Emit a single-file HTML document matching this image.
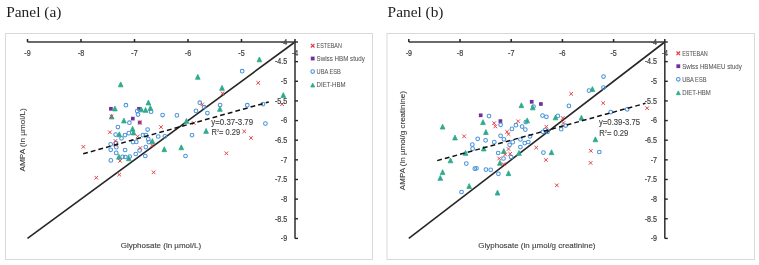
<!DOCTYPE html>
<html><head><meta charset="utf-8"><title>Panels</title>
<style>
html,body{margin:0;padding:0;background:#fff;}
body{width:759px;height:265px;overflow:hidden;}
svg{display:block;filter:blur(0.3px);}

</style></head>
<body>
<svg width="759" height="265" viewBox="0 0 759 265">
<rect width="759" height="265" fill="#fff"/>
<rect x="5.5" y="33.5" width="367.0" height="226.0" fill="#fff" stroke="#d9d9d9" stroke-width="1"/>
<text x="6.2" y="16.8" font-family="&quot;Liberation Serif&quot;, serif" font-size="14.6" fill="#1e1e1e" text-anchor="start" textLength="55.2" lengthAdjust="spacingAndGlyphs">Panel (a)</text>
<line x1="27.5" y1="238.4" x2="295.0" y2="42.0" stroke="#262626" stroke-width="1.6"/>
<rect x="109.05" y="106.95" width="3.70" height="3.70" fill="#7030a0"/>
<rect x="130.95" y="116.75" width="3.70" height="3.70" fill="#7030a0"/>
<rect x="137.15" y="106.95" width="3.70" height="3.70" fill="#7030a0"/>
<rect x="137.85" y="120.65" width="3.70" height="3.70" fill="#7030a0"/>
<circle cx="125.90" cy="105.20" r="1.85" stroke="#4b94db" stroke-width="1.05" fill="none"/>
<circle cx="137.20" cy="111.10" r="1.85" stroke="#4b94db" stroke-width="1.05" fill="none"/>
<circle cx="138.00" cy="114.50" r="1.85" stroke="#4b94db" stroke-width="1.05" fill="none"/>
<circle cx="151.10" cy="111.70" r="1.85" stroke="#4b94db" stroke-width="1.05" fill="none"/>
<circle cx="162.60" cy="115.00" r="1.85" stroke="#4b94db" stroke-width="1.05" fill="none"/>
<circle cx="176.90" cy="115.30" r="1.85" stroke="#4b94db" stroke-width="1.05" fill="none"/>
<circle cx="199.80" cy="102.70" r="1.85" stroke="#4b94db" stroke-width="1.05" fill="none"/>
<circle cx="196.00" cy="110.90" r="1.85" stroke="#4b94db" stroke-width="1.05" fill="none"/>
<circle cx="204.10" cy="107.20" r="1.85" stroke="#4b94db" stroke-width="1.05" fill="none"/>
<circle cx="207.40" cy="113.00" r="1.85" stroke="#4b94db" stroke-width="1.05" fill="none"/>
<circle cx="220.10" cy="105.00" r="1.85" stroke="#4b94db" stroke-width="1.05" fill="none"/>
<circle cx="247.30" cy="105.20" r="1.85" stroke="#4b94db" stroke-width="1.05" fill="none"/>
<circle cx="263.00" cy="104.10" r="1.85" stroke="#4b94db" stroke-width="1.05" fill="none"/>
<circle cx="242.20" cy="71.20" r="1.85" stroke="#4b94db" stroke-width="1.05" fill="none"/>
<circle cx="265.40" cy="123.60" r="1.85" stroke="#4b94db" stroke-width="1.05" fill="none"/>
<circle cx="129.40" cy="122.70" r="1.85" stroke="#4b94db" stroke-width="1.05" fill="none"/>
<circle cx="117.90" cy="127.00" r="1.85" stroke="#4b94db" stroke-width="1.05" fill="none"/>
<circle cx="115.60" cy="134.60" r="1.85" stroke="#4b94db" stroke-width="1.05" fill="none"/>
<circle cx="121.50" cy="138.30" r="1.85" stroke="#4b94db" stroke-width="1.05" fill="none"/>
<circle cx="125.00" cy="135.10" r="1.85" stroke="#4b94db" stroke-width="1.05" fill="none"/>
<circle cx="128.80" cy="133.20" r="1.85" stroke="#4b94db" stroke-width="1.05" fill="none"/>
<circle cx="142.90" cy="135.10" r="1.85" stroke="#4b94db" stroke-width="1.05" fill="none"/>
<circle cx="145.80" cy="135.10" r="1.85" stroke="#4b94db" stroke-width="1.05" fill="none"/>
<circle cx="147.60" cy="129.50" r="1.85" stroke="#4b94db" stroke-width="1.05" fill="none"/>
<circle cx="133.00" cy="142.10" r="1.85" stroke="#4b94db" stroke-width="1.05" fill="none"/>
<circle cx="136.30" cy="141.90" r="1.85" stroke="#4b94db" stroke-width="1.05" fill="none"/>
<circle cx="110.70" cy="144.30" r="1.85" stroke="#4b94db" stroke-width="1.05" fill="none"/>
<circle cx="116.00" cy="143.00" r="1.85" stroke="#4b94db" stroke-width="1.05" fill="none"/>
<circle cx="148.30" cy="139.20" r="1.85" stroke="#4b94db" stroke-width="1.05" fill="none"/>
<circle cx="148.80" cy="142.10" r="1.85" stroke="#4b94db" stroke-width="1.05" fill="none"/>
<circle cx="110.70" cy="149.80" r="1.85" stroke="#4b94db" stroke-width="1.05" fill="none"/>
<circle cx="116.30" cy="147.20" r="1.85" stroke="#4b94db" stroke-width="1.05" fill="none"/>
<circle cx="116.20" cy="152.90" r="1.85" stroke="#4b94db" stroke-width="1.05" fill="none"/>
<circle cx="110.80" cy="160.40" r="1.85" stroke="#4b94db" stroke-width="1.05" fill="none"/>
<circle cx="122.60" cy="156.80" r="1.85" stroke="#4b94db" stroke-width="1.05" fill="none"/>
<circle cx="125.30" cy="157.00" r="1.85" stroke="#4b94db" stroke-width="1.05" fill="none"/>
<circle cx="125.10" cy="150.00" r="1.85" stroke="#4b94db" stroke-width="1.05" fill="none"/>
<circle cx="129.70" cy="156.50" r="1.85" stroke="#4b94db" stroke-width="1.05" fill="none"/>
<circle cx="135.70" cy="154.00" r="1.85" stroke="#4b94db" stroke-width="1.05" fill="none"/>
<circle cx="139.60" cy="150.40" r="1.85" stroke="#4b94db" stroke-width="1.05" fill="none"/>
<circle cx="145.80" cy="147.10" r="1.85" stroke="#4b94db" stroke-width="1.05" fill="none"/>
<circle cx="145.30" cy="156.00" r="1.85" stroke="#4b94db" stroke-width="1.05" fill="none"/>
<circle cx="158.20" cy="136.50" r="1.85" stroke="#4b94db" stroke-width="1.05" fill="none"/>
<circle cx="164.80" cy="136.30" r="1.85" stroke="#4b94db" stroke-width="1.05" fill="none"/>
<circle cx="192.00" cy="135.10" r="1.85" stroke="#4b94db" stroke-width="1.05" fill="none"/>
<circle cx="185.50" cy="156.00" r="1.85" stroke="#4b94db" stroke-width="1.05" fill="none"/>
<path d="M120.70 81.95L123.05 86.85L118.35 86.85Z" fill="#34a0ad" stroke="#2cb176" stroke-width="0.8" stroke-linejoin="round"/>
<path d="M148.40 100.05L150.75 104.95L146.05 104.95Z" fill="#34a0ad" stroke="#2cb176" stroke-width="0.8" stroke-linejoin="round"/>
<path d="M197.80 74.35L200.15 79.25L195.45 79.25Z" fill="#34a0ad" stroke="#2cb176" stroke-width="0.8" stroke-linejoin="round"/>
<path d="M259.40 56.95L261.75 61.85L257.05 61.85Z" fill="#34a0ad" stroke="#2cb176" stroke-width="0.8" stroke-linejoin="round"/>
<path d="M222.00 85.35L224.35 90.25L219.65 90.25Z" fill="#34a0ad" stroke="#2cb176" stroke-width="0.8" stroke-linejoin="round"/>
<path d="M114.90 106.05L117.25 110.95L112.55 110.95Z" fill="#34a0ad" stroke="#2cb176" stroke-width="0.8" stroke-linejoin="round"/>
<path d="M141.30 106.95L143.65 111.85L138.95 111.85Z" fill="#34a0ad" stroke="#2cb176" stroke-width="0.8" stroke-linejoin="round"/>
<path d="M145.60 107.45L147.95 112.35L143.25 112.35Z" fill="#34a0ad" stroke="#2cb176" stroke-width="0.8" stroke-linejoin="round"/>
<path d="M150.40 105.45L152.75 110.35L148.05 110.35Z" fill="#34a0ad" stroke="#2cb176" stroke-width="0.8" stroke-linejoin="round"/>
<path d="M111.60 114.05L113.95 118.95L109.25 118.95Z" fill="#34a0ad" stroke="#2cb176" stroke-width="0.8" stroke-linejoin="round"/>
<path d="M123.90 118.05L126.25 122.95L121.55 122.95Z" fill="#34a0ad" stroke="#2cb176" stroke-width="0.8" stroke-linejoin="round"/>
<path d="M132.60 126.35L134.95 131.25L130.25 131.25Z" fill="#34a0ad" stroke="#2cb176" stroke-width="0.8" stroke-linejoin="round"/>
<path d="M133.50 130.05L135.85 134.95L131.15 134.95Z" fill="#34a0ad" stroke="#2cb176" stroke-width="0.8" stroke-linejoin="round"/>
<path d="M119.30 131.85L121.65 136.75L116.95 136.75Z" fill="#34a0ad" stroke="#2cb176" stroke-width="0.8" stroke-linejoin="round"/>
<path d="M186.50 118.45L188.85 123.35L184.15 123.35Z" fill="#34a0ad" stroke="#2cb176" stroke-width="0.8" stroke-linejoin="round"/>
<path d="M219.90 106.45L222.25 111.35L217.55 111.35Z" fill="#34a0ad" stroke="#2cb176" stroke-width="0.8" stroke-linejoin="round"/>
<path d="M283.30 92.55L285.65 97.45L280.95 97.45Z" fill="#34a0ad" stroke="#2cb176" stroke-width="0.8" stroke-linejoin="round"/>
<path d="M206.10 128.45L208.45 133.35L203.75 133.35Z" fill="#34a0ad" stroke="#2cb176" stroke-width="0.8" stroke-linejoin="round"/>
<path d="M152.40 138.65L154.75 143.55L150.05 143.55Z" fill="#34a0ad" stroke="#2cb176" stroke-width="0.8" stroke-linejoin="round"/>
<path d="M164.30 146.75L166.65 151.65L161.95 151.65Z" fill="#34a0ad" stroke="#2cb176" stroke-width="0.8" stroke-linejoin="round"/>
<path d="M181.30 144.85L183.65 149.75L178.95 149.75Z" fill="#34a0ad" stroke="#2cb176" stroke-width="0.8" stroke-linejoin="round"/>
<path d="M118.90 154.25L121.25 159.15L116.55 159.15Z" fill="#34a0ad" stroke="#2cb176" stroke-width="0.8" stroke-linejoin="round"/>
<path d="M128.80 155.85L131.15 160.75L126.45 160.75Z" fill="#34a0ad" stroke="#2cb176" stroke-width="0.8" stroke-linejoin="round"/>
<path d="M81.60 145.00L85.20 148.60M85.20 145.00L81.60 148.60" stroke="#e23a42" stroke-width="0.95" fill="none"/>
<path d="M94.50 175.90L98.10 179.50M98.10 175.90L94.50 179.50" stroke="#e23a42" stroke-width="0.95" fill="none"/>
<path d="M108.10 130.50L111.70 134.10M111.70 130.50L108.10 134.10" stroke="#e23a42" stroke-width="0.95" fill="none"/>
<path d="M109.80 114.70L113.40 118.30M113.40 114.70L109.80 118.30" stroke="#e23a42" stroke-width="0.95" fill="none"/>
<path d="M113.60 139.10L117.20 142.70M117.20 139.10L113.60 142.70" stroke="#e23a42" stroke-width="0.95" fill="none"/>
<path d="M113.80 143.20L117.40 146.80M117.40 143.20L113.80 146.80" stroke="#e23a42" stroke-width="0.95" fill="none"/>
<path d="M117.40 172.80L121.00 176.40M121.00 172.80L117.40 176.40" stroke="#e23a42" stroke-width="0.95" fill="none"/>
<path d="M118.30 159.10L121.90 162.70M121.90 159.10L118.30 162.70" stroke="#e23a42" stroke-width="0.95" fill="none"/>
<path d="M135.90 134.70L139.50 138.30M139.50 134.70L135.90 138.30" stroke="#e23a42" stroke-width="0.95" fill="none"/>
<path d="M137.90 120.80L141.50 124.40M141.50 120.80L137.90 124.40" stroke="#e23a42" stroke-width="0.95" fill="none"/>
<path d="M138.60 146.20L142.20 149.80M142.20 146.20L138.60 149.80" stroke="#e23a42" stroke-width="0.95" fill="none"/>
<path d="M150.30 143.60L153.90 147.20M153.90 143.60L150.30 147.20" stroke="#e23a42" stroke-width="0.95" fill="none"/>
<path d="M151.80 170.50L155.40 174.10M155.40 170.50L151.80 174.10" stroke="#e23a42" stroke-width="0.95" fill="none"/>
<path d="M159.20 125.30L162.80 128.90M162.80 125.30L159.20 128.90" stroke="#e23a42" stroke-width="0.95" fill="none"/>
<path d="M192.00 121.30L195.60 124.90M195.60 121.30L192.00 124.90" stroke="#e23a42" stroke-width="0.95" fill="none"/>
<path d="M200.40 102.70L204.00 106.30M204.00 102.70L200.40 106.30" stroke="#e23a42" stroke-width="0.95" fill="none"/>
<path d="M220.70 91.50L224.30 95.10M224.30 91.50L220.70 95.10" stroke="#e23a42" stroke-width="0.95" fill="none"/>
<path d="M224.60 151.50L228.20 155.10M228.20 151.50L224.60 155.10" stroke="#e23a42" stroke-width="0.95" fill="none"/>
<path d="M242.40 129.60L246.00 133.20M246.00 129.60L242.40 133.20" stroke="#e23a42" stroke-width="0.95" fill="none"/>
<path d="M249.20 136.10L252.80 139.70M252.80 136.10L249.20 139.70" stroke="#e23a42" stroke-width="0.95" fill="none"/>
<path d="M256.40 81.10L260.00 84.70M260.00 81.10L256.40 84.70" stroke="#e23a42" stroke-width="0.95" fill="none"/>
<path d="M280.30 102.40L283.90 106.00M283.90 102.40L280.30 106.00" stroke="#e23a42" stroke-width="0.95" fill="none"/>
<line x1="83.2" y1="153.8" x2="268.8" y2="102.0" stroke="#111" stroke-width="1.5" stroke-dasharray="4.8 3.1"/>
<line x1="27.5" y1="42.0" x2="295.0" y2="42.0" stroke="#3a3a3a" stroke-width="1.6"/>
<line x1="295.0" y1="42.0" x2="295.0" y2="238.4" stroke="#3a3a3a" stroke-width="1.6"/>
<line x1="27.50" y1="39.00" x2="27.50" y2="42.00" stroke="#262626" stroke-width="1.5"/>
<text x="27.50" y="55.9" font-family="&quot;Liberation Sans&quot;, sans-serif" font-size="8.3" fill="#404040" text-anchor="middle" textLength="6.35" lengthAdjust="spacingAndGlyphs" stroke="#404040" stroke-width="0.2">-9</text>
<line x1="81.00" y1="39.00" x2="81.00" y2="42.00" stroke="#262626" stroke-width="1.5"/>
<text x="81.00" y="55.9" font-family="&quot;Liberation Sans&quot;, sans-serif" font-size="8.3" fill="#404040" text-anchor="middle" textLength="6.35" lengthAdjust="spacingAndGlyphs" stroke="#404040" stroke-width="0.2">-8</text>
<line x1="134.50" y1="39.00" x2="134.50" y2="42.00" stroke="#262626" stroke-width="1.5"/>
<text x="134.50" y="55.9" font-family="&quot;Liberation Sans&quot;, sans-serif" font-size="8.3" fill="#404040" text-anchor="middle" textLength="6.35" lengthAdjust="spacingAndGlyphs" stroke="#404040" stroke-width="0.2">-7</text>
<line x1="188.00" y1="39.00" x2="188.00" y2="42.00" stroke="#262626" stroke-width="1.5"/>
<text x="188.00" y="55.9" font-family="&quot;Liberation Sans&quot;, sans-serif" font-size="8.3" fill="#404040" text-anchor="middle" textLength="6.35" lengthAdjust="spacingAndGlyphs" stroke="#404040" stroke-width="0.2">-6</text>
<line x1="241.50" y1="39.00" x2="241.50" y2="42.00" stroke="#262626" stroke-width="1.5"/>
<text x="241.50" y="55.9" font-family="&quot;Liberation Sans&quot;, sans-serif" font-size="8.3" fill="#404040" text-anchor="middle" textLength="6.35" lengthAdjust="spacingAndGlyphs" stroke="#404040" stroke-width="0.2">-5</text>
<line x1="295.00" y1="39.00" x2="295.00" y2="42.00" stroke="#262626" stroke-width="1.5"/>
<text x="295.00" y="55.9" font-family="&quot;Liberation Sans&quot;, sans-serif" font-size="8.3" fill="#404040" text-anchor="middle" textLength="6.35" lengthAdjust="spacingAndGlyphs" stroke="#404040" stroke-width="0.2">-4</text>
<line x1="295.00" y1="42.00" x2="298.00" y2="42.00" stroke="#262626" stroke-width="1.4"/>
<text x="287.20" y="44.75" font-family="&quot;Liberation Sans&quot;, sans-serif" font-size="8.3" fill="#404040" text-anchor="end" textLength="6.35" lengthAdjust="spacingAndGlyphs" stroke="#404040" stroke-width="0.2">-4</text>
<line x1="295.00" y1="61.64" x2="298.00" y2="61.64" stroke="#262626" stroke-width="1.4"/>
<text x="287.20" y="64.39" font-family="&quot;Liberation Sans&quot;, sans-serif" font-size="8.3" fill="#404040" text-anchor="end" textLength="12.30" lengthAdjust="spacingAndGlyphs" stroke="#404040" stroke-width="0.2">-4.5</text>
<line x1="295.00" y1="81.28" x2="298.00" y2="81.28" stroke="#262626" stroke-width="1.4"/>
<text x="287.20" y="84.03" font-family="&quot;Liberation Sans&quot;, sans-serif" font-size="8.3" fill="#404040" text-anchor="end" textLength="6.35" lengthAdjust="spacingAndGlyphs" stroke="#404040" stroke-width="0.2">-5</text>
<line x1="295.00" y1="100.92" x2="298.00" y2="100.92" stroke="#262626" stroke-width="1.4"/>
<text x="287.20" y="103.67" font-family="&quot;Liberation Sans&quot;, sans-serif" font-size="8.3" fill="#404040" text-anchor="end" textLength="12.30" lengthAdjust="spacingAndGlyphs" stroke="#404040" stroke-width="0.2">-5.5</text>
<line x1="295.00" y1="120.56" x2="298.00" y2="120.56" stroke="#262626" stroke-width="1.4"/>
<text x="287.20" y="123.31" font-family="&quot;Liberation Sans&quot;, sans-serif" font-size="8.3" fill="#404040" text-anchor="end" textLength="6.35" lengthAdjust="spacingAndGlyphs" stroke="#404040" stroke-width="0.2">-6</text>
<line x1="295.00" y1="140.20" x2="298.00" y2="140.20" stroke="#262626" stroke-width="1.4"/>
<text x="287.20" y="142.95" font-family="&quot;Liberation Sans&quot;, sans-serif" font-size="8.3" fill="#404040" text-anchor="end" textLength="12.30" lengthAdjust="spacingAndGlyphs" stroke="#404040" stroke-width="0.2">-6.5</text>
<line x1="295.00" y1="159.84" x2="298.00" y2="159.84" stroke="#262626" stroke-width="1.4"/>
<text x="287.20" y="162.59" font-family="&quot;Liberation Sans&quot;, sans-serif" font-size="8.3" fill="#404040" text-anchor="end" textLength="6.35" lengthAdjust="spacingAndGlyphs" stroke="#404040" stroke-width="0.2">-7</text>
<line x1="295.00" y1="179.48" x2="298.00" y2="179.48" stroke="#262626" stroke-width="1.4"/>
<text x="287.20" y="182.23" font-family="&quot;Liberation Sans&quot;, sans-serif" font-size="8.3" fill="#404040" text-anchor="end" textLength="12.30" lengthAdjust="spacingAndGlyphs" stroke="#404040" stroke-width="0.2">-7.5</text>
<line x1="295.00" y1="199.12" x2="298.00" y2="199.12" stroke="#262626" stroke-width="1.4"/>
<text x="287.20" y="201.87" font-family="&quot;Liberation Sans&quot;, sans-serif" font-size="8.3" fill="#404040" text-anchor="end" textLength="6.35" lengthAdjust="spacingAndGlyphs" stroke="#404040" stroke-width="0.2">-8</text>
<line x1="295.00" y1="218.76" x2="298.00" y2="218.76" stroke="#262626" stroke-width="1.4"/>
<text x="287.20" y="221.51" font-family="&quot;Liberation Sans&quot;, sans-serif" font-size="8.3" fill="#404040" text-anchor="end" textLength="12.30" lengthAdjust="spacingAndGlyphs" stroke="#404040" stroke-width="0.2">-8.5</text>
<line x1="295.00" y1="238.40" x2="298.00" y2="238.40" stroke="#262626" stroke-width="1.4"/>
<text x="287.20" y="241.15" font-family="&quot;Liberation Sans&quot;, sans-serif" font-size="8.3" fill="#404040" text-anchor="end" textLength="6.35" lengthAdjust="spacingAndGlyphs" stroke="#404040" stroke-width="0.2">-9</text>
<text x="211.3" y="124.9" font-family="&quot;Liberation Sans&quot;, sans-serif" font-size="8.4" fill="#404040" text-anchor="start" textLength="41.8" lengthAdjust="spacingAndGlyphs" stroke="#404040" stroke-width="0.12">y=0.37-3.79</text>
<text x="211.5" y="135.4" font-family="&quot;Liberation Sans&quot;, sans-serif" font-size="8.4" fill="#404040" text-anchor="start" textLength="28.6" lengthAdjust="spacingAndGlyphs" stroke="#404040" stroke-width="0.12">R<tspan font-size="4.2" dy="-3.0">2</tspan><tspan dy="3.0">= 0.29</tspan></text>
<text x="160.9" y="247.8" font-family="&quot;Liberation Sans&quot;, sans-serif" font-size="8.0" fill="#404040" text-anchor="middle" textLength="80.4" lengthAdjust="spacingAndGlyphs" stroke="#404040" stroke-width="0.12">Glyphosate (ln µmol/L)</text>
<g transform="translate(24.5,139.85) rotate(-90)"><text x="0" y="0" font-family="&quot;Liberation Sans&quot;, sans-serif" font-size="8.0" fill="#404040" text-anchor="middle" textLength="63.1" lengthAdjust="spacingAndGlyphs" stroke="#404040" stroke-width="0.12">AMPA (ln µmol/L)</text></g>
<path d="M310.90 43.90L314.50 47.50M314.50 43.90L310.90 47.50" stroke="#e23a42" stroke-width="1.2" fill="none"/>
<rect x="310.80" y="56.60" width="3.80" height="3.80" fill="#7030a0"/>
<circle cx="312.70" cy="71.60" r="1.8" stroke="#4b94db" stroke-width="1.15" fill="none"/>
<path d="M312.70 83.20L314.70 87.00L310.70 87.00Z" fill="#34a0ad" stroke="#2cb176" stroke-width="0.8" stroke-linejoin="round"/>
<text x="316.59999999999997" y="48.00" font-family="&quot;Liberation Sans&quot;, sans-serif" font-size="6.4" fill="#555555" text-anchor="start" textLength="25.3" lengthAdjust="spacingAndGlyphs" stroke="#555555" stroke-width="0.05">ESTEBAN</text>
<text x="316.59999999999997" y="60.80" font-family="&quot;Liberation Sans&quot;, sans-serif" font-size="6.4" fill="#555555" text-anchor="start" textLength="48.3" lengthAdjust="spacingAndGlyphs" stroke="#555555" stroke-width="0.05">Swiss HBM study</text>
<text x="316.59999999999997" y="73.90" font-family="&quot;Liberation Sans&quot;, sans-serif" font-size="6.4" fill="#555555" text-anchor="start" textLength="24.2" lengthAdjust="spacingAndGlyphs" stroke="#555555" stroke-width="0.05">UBA ESB</text>
<text x="316.59999999999997" y="87.40" font-family="&quot;Liberation Sans&quot;, sans-serif" font-size="6.4" fill="#555555" text-anchor="start" textLength="28.9" lengthAdjust="spacingAndGlyphs" stroke="#555555" stroke-width="0.05">DIET-HBM</text>
<rect x="387.0" y="33.5" width="367.5" height="226.0" fill="#fff" stroke="#d9d9d9" stroke-width="1"/>
<text x="387.6" y="16.8" font-family="&quot;Liberation Serif&quot;, serif" font-size="14.6" fill="#1e1e1e" text-anchor="start" textLength="55.9" lengthAdjust="spacingAndGlyphs">Panel (b)</text>
<line x1="408.8" y1="238.4" x2="664.8" y2="42.0" stroke="#262626" stroke-width="1.6"/>
<rect x="478.85" y="113.45" width="3.70" height="3.70" fill="#7030a0"/>
<rect x="498.55" y="119.25" width="3.70" height="3.70" fill="#7030a0"/>
<rect x="529.85" y="99.95" width="3.70" height="3.70" fill="#7030a0"/>
<rect x="539.05" y="102.15" width="3.70" height="3.70" fill="#7030a0"/>
<circle cx="489.00" cy="116.10" r="1.85" stroke="#4b94db" stroke-width="1.05" fill="none"/>
<circle cx="500.60" cy="124.80" r="1.85" stroke="#4b94db" stroke-width="1.05" fill="none"/>
<circle cx="477.70" cy="138.80" r="1.85" stroke="#4b94db" stroke-width="1.05" fill="none"/>
<circle cx="485.60" cy="140.30" r="1.85" stroke="#4b94db" stroke-width="1.05" fill="none"/>
<circle cx="472.30" cy="144.60" r="1.85" stroke="#4b94db" stroke-width="1.05" fill="none"/>
<circle cx="472.60" cy="148.70" r="1.85" stroke="#4b94db" stroke-width="1.05" fill="none"/>
<circle cx="494.30" cy="142.20" r="1.85" stroke="#4b94db" stroke-width="1.05" fill="none"/>
<circle cx="500.60" cy="135.80" r="1.85" stroke="#4b94db" stroke-width="1.05" fill="none"/>
<circle cx="503.90" cy="139.30" r="1.85" stroke="#4b94db" stroke-width="1.05" fill="none"/>
<circle cx="498.20" cy="153.00" r="1.85" stroke="#4b94db" stroke-width="1.05" fill="none"/>
<circle cx="466.30" cy="163.60" r="1.85" stroke="#4b94db" stroke-width="1.05" fill="none"/>
<circle cx="474.80" cy="168.70" r="1.85" stroke="#4b94db" stroke-width="1.05" fill="none"/>
<circle cx="476.50" cy="168.30" r="1.85" stroke="#4b94db" stroke-width="1.05" fill="none"/>
<circle cx="485.90" cy="169.60" r="1.85" stroke="#4b94db" stroke-width="1.05" fill="none"/>
<circle cx="490.70" cy="169.80" r="1.85" stroke="#4b94db" stroke-width="1.05" fill="none"/>
<circle cx="498.40" cy="173.80" r="1.85" stroke="#4b94db" stroke-width="1.05" fill="none"/>
<circle cx="503.50" cy="158.50" r="1.85" stroke="#4b94db" stroke-width="1.05" fill="none"/>
<circle cx="461.50" cy="192.00" r="1.85" stroke="#4b94db" stroke-width="1.05" fill="none"/>
<circle cx="511.90" cy="128.90" r="1.85" stroke="#4b94db" stroke-width="1.05" fill="none"/>
<circle cx="515.90" cy="125.20" r="1.85" stroke="#4b94db" stroke-width="1.05" fill="none"/>
<circle cx="522.10" cy="126.60" r="1.85" stroke="#4b94db" stroke-width="1.05" fill="none"/>
<circle cx="525.30" cy="129.60" r="1.85" stroke="#4b94db" stroke-width="1.05" fill="none"/>
<circle cx="525.80" cy="122.10" r="1.85" stroke="#4b94db" stroke-width="1.05" fill="none"/>
<circle cx="512.70" cy="142.20" r="1.85" stroke="#4b94db" stroke-width="1.05" fill="none"/>
<circle cx="509.60" cy="144.80" r="1.85" stroke="#4b94db" stroke-width="1.05" fill="none"/>
<circle cx="520.40" cy="139.50" r="1.85" stroke="#4b94db" stroke-width="1.05" fill="none"/>
<circle cx="524.70" cy="143.10" r="1.85" stroke="#4b94db" stroke-width="1.05" fill="none"/>
<circle cx="528.30" cy="142.00" r="1.85" stroke="#4b94db" stroke-width="1.05" fill="none"/>
<circle cx="530.00" cy="136.30" r="1.85" stroke="#4b94db" stroke-width="1.05" fill="none"/>
<circle cx="520.40" cy="147.10" r="1.85" stroke="#4b94db" stroke-width="1.05" fill="none"/>
<circle cx="543.40" cy="152.60" r="1.85" stroke="#4b94db" stroke-width="1.05" fill="none"/>
<circle cx="543.00" cy="131.80" r="1.85" stroke="#4b94db" stroke-width="1.05" fill="none"/>
<circle cx="545.30" cy="129.80" r="1.85" stroke="#4b94db" stroke-width="1.05" fill="none"/>
<circle cx="547.60" cy="131.80" r="1.85" stroke="#4b94db" stroke-width="1.05" fill="none"/>
<circle cx="561.20" cy="129.20" r="1.85" stroke="#4b94db" stroke-width="1.05" fill="none"/>
<circle cx="565.70" cy="125.50" r="1.85" stroke="#4b94db" stroke-width="1.05" fill="none"/>
<circle cx="542.50" cy="115.60" r="1.85" stroke="#4b94db" stroke-width="1.05" fill="none"/>
<circle cx="546.40" cy="116.80" r="1.85" stroke="#4b94db" stroke-width="1.05" fill="none"/>
<circle cx="557.80" cy="115.90" r="1.85" stroke="#4b94db" stroke-width="1.05" fill="none"/>
<circle cx="568.90" cy="105.90" r="1.85" stroke="#4b94db" stroke-width="1.05" fill="none"/>
<circle cx="511.10" cy="157.00" r="1.85" stroke="#4b94db" stroke-width="1.05" fill="none"/>
<circle cx="589.00" cy="90.60" r="1.85" stroke="#4b94db" stroke-width="1.05" fill="none"/>
<circle cx="603.50" cy="76.50" r="1.85" stroke="#4b94db" stroke-width="1.05" fill="none"/>
<circle cx="603.50" cy="87.50" r="1.85" stroke="#4b94db" stroke-width="1.05" fill="none"/>
<circle cx="610.70" cy="112.10" r="1.85" stroke="#4b94db" stroke-width="1.05" fill="none"/>
<circle cx="627.20" cy="109.30" r="1.85" stroke="#4b94db" stroke-width="1.05" fill="none"/>
<circle cx="599.30" cy="152.00" r="1.85" stroke="#4b94db" stroke-width="1.05" fill="none"/>
<circle cx="533.50" cy="106.60" r="1.85" stroke="#4b94db" stroke-width="1.05" fill="none"/>
<path d="M442.60 124.15L444.95 129.05L440.25 129.05Z" fill="#34a0ad" stroke="#2cb176" stroke-width="0.8" stroke-linejoin="round"/>
<path d="M483.00 119.65L485.35 124.55L480.65 124.55Z" fill="#34a0ad" stroke="#2cb176" stroke-width="0.8" stroke-linejoin="round"/>
<path d="M455.00 135.05L457.35 139.95L452.65 139.95Z" fill="#34a0ad" stroke="#2cb176" stroke-width="0.8" stroke-linejoin="round"/>
<path d="M485.90 129.55L488.25 134.45L483.55 134.45Z" fill="#34a0ad" stroke="#2cb176" stroke-width="0.8" stroke-linejoin="round"/>
<path d="M483.70 146.05L486.05 150.95L481.35 150.95Z" fill="#34a0ad" stroke="#2cb176" stroke-width="0.8" stroke-linejoin="round"/>
<path d="M465.50 150.45L467.85 155.35L463.15 155.35Z" fill="#34a0ad" stroke="#2cb176" stroke-width="0.8" stroke-linejoin="round"/>
<path d="M450.50 157.95L452.85 162.85L448.15 162.85Z" fill="#34a0ad" stroke="#2cb176" stroke-width="0.8" stroke-linejoin="round"/>
<path d="M442.60 169.65L444.95 174.55L440.25 174.55Z" fill="#34a0ad" stroke="#2cb176" stroke-width="0.8" stroke-linejoin="round"/>
<path d="M440.30 175.45L442.65 180.35L437.95 180.35Z" fill="#34a0ad" stroke="#2cb176" stroke-width="0.8" stroke-linejoin="round"/>
<path d="M499.90 160.35L502.25 165.25L497.55 165.25Z" fill="#34a0ad" stroke="#2cb176" stroke-width="0.8" stroke-linejoin="round"/>
<path d="M469.20 183.55L471.55 188.45L466.85 188.45Z" fill="#34a0ad" stroke="#2cb176" stroke-width="0.8" stroke-linejoin="round"/>
<path d="M497.50 190.15L499.85 195.05L495.15 195.05Z" fill="#34a0ad" stroke="#2cb176" stroke-width="0.8" stroke-linejoin="round"/>
<path d="M503.80 148.55L506.15 153.45L501.45 153.45Z" fill="#34a0ad" stroke="#2cb176" stroke-width="0.8" stroke-linejoin="round"/>
<path d="M508.50 170.75L510.85 175.65L506.15 175.65Z" fill="#34a0ad" stroke="#2cb176" stroke-width="0.8" stroke-linejoin="round"/>
<path d="M519.00 150.45L521.35 155.35L516.65 155.35Z" fill="#34a0ad" stroke="#2cb176" stroke-width="0.8" stroke-linejoin="round"/>
<path d="M521.40 102.75L523.75 107.65L519.05 107.65Z" fill="#34a0ad" stroke="#2cb176" stroke-width="0.8" stroke-linejoin="round"/>
<path d="M532.70 104.95L535.05 109.85L530.35 109.85Z" fill="#34a0ad" stroke="#2cb176" stroke-width="0.8" stroke-linejoin="round"/>
<path d="M527.20 117.95L529.55 122.85L524.85 122.85Z" fill="#34a0ad" stroke="#2cb176" stroke-width="0.8" stroke-linejoin="round"/>
<path d="M551.50 149.75L553.85 154.65L549.15 154.65Z" fill="#34a0ad" stroke="#2cb176" stroke-width="0.8" stroke-linejoin="round"/>
<path d="M555.50 114.95L557.85 119.85L553.15 119.85Z" fill="#34a0ad" stroke="#2cb176" stroke-width="0.8" stroke-linejoin="round"/>
<path d="M581.40 115.25L583.75 120.15L579.05 120.15Z" fill="#34a0ad" stroke="#2cb176" stroke-width="0.8" stroke-linejoin="round"/>
<path d="M592.40 86.55L594.75 91.45L590.05 91.45Z" fill="#34a0ad" stroke="#2cb176" stroke-width="0.8" stroke-linejoin="round"/>
<path d="M595.40 136.85L597.75 141.75L593.05 141.75Z" fill="#34a0ad" stroke="#2cb176" stroke-width="0.8" stroke-linejoin="round"/>
<path d="M462.30 134.50L465.90 138.10M465.90 134.50L462.30 138.10" stroke="#e23a42" stroke-width="0.95" fill="none"/>
<path d="M492.30 121.40L495.90 125.00M495.90 121.40L492.30 125.00" stroke="#e23a42" stroke-width="0.95" fill="none"/>
<path d="M493.50 124.60L497.10 128.20M497.10 124.60L493.50 128.20" stroke="#e23a42" stroke-width="0.95" fill="none"/>
<path d="M497.40 156.70L501.00 160.30M501.00 156.70L497.40 160.30" stroke="#e23a42" stroke-width="0.95" fill="none"/>
<path d="M501.70 162.40L505.30 166.00M505.30 162.40L501.70 166.00" stroke="#e23a42" stroke-width="0.95" fill="none"/>
<path d="M516.30 119.50L519.90 123.10M519.90 119.50L516.30 123.10" stroke="#e23a42" stroke-width="0.95" fill="none"/>
<path d="M505.20 130.00L508.80 133.60M508.80 130.00L505.20 133.60" stroke="#e23a42" stroke-width="0.95" fill="none"/>
<path d="M506.70 132.30L510.30 135.90M510.30 132.30L506.70 135.90" stroke="#e23a42" stroke-width="0.95" fill="none"/>
<path d="M506.70 147.20L510.30 150.80M510.30 147.20L506.70 150.80" stroke="#e23a42" stroke-width="0.95" fill="none"/>
<path d="M508.40 152.00L512.00 155.60M512.00 152.00L508.40 155.60" stroke="#e23a42" stroke-width="0.95" fill="none"/>
<path d="M503.30 152.70L506.90 156.30M506.90 152.70L503.30 156.30" stroke="#e23a42" stroke-width="0.95" fill="none"/>
<path d="M534.40 145.80L538.00 149.40M538.00 145.80L534.40 149.40" stroke="#e23a42" stroke-width="0.95" fill="none"/>
<path d="M544.60 124.90L548.20 128.50M548.20 124.90L544.60 128.50" stroke="#e23a42" stroke-width="0.95" fill="none"/>
<path d="M544.10 158.20L547.70 161.80M547.70 158.20L544.10 161.80" stroke="#e23a42" stroke-width="0.95" fill="none"/>
<path d="M555.00 183.50L558.60 187.10M558.60 183.50L555.00 187.10" stroke="#e23a42" stroke-width="0.95" fill="none"/>
<path d="M561.00 116.20L564.60 119.80M564.60 116.20L561.00 119.80" stroke="#e23a42" stroke-width="0.95" fill="none"/>
<path d="M561.60 121.20L565.20 124.80M565.20 121.20L561.60 124.80" stroke="#e23a42" stroke-width="0.95" fill="none"/>
<path d="M569.40 92.00L573.00 95.60M573.00 92.00L569.40 95.60" stroke="#e23a42" stroke-width="0.95" fill="none"/>
<path d="M601.40 101.30L605.00 104.90M605.00 101.30L601.40 104.90" stroke="#e23a42" stroke-width="0.95" fill="none"/>
<path d="M645.30 106.40L648.90 110.00M648.90 106.40L645.30 110.00" stroke="#e23a42" stroke-width="0.95" fill="none"/>
<path d="M589.00 149.00L592.60 152.60M592.60 149.00L589.00 152.60" stroke="#e23a42" stroke-width="0.95" fill="none"/>
<path d="M588.80 161.10L592.40 164.70M592.40 161.10L588.80 164.70" stroke="#e23a42" stroke-width="0.95" fill="none"/>
<line x1="437.2" y1="160.6" x2="645.5" y2="103.3" stroke="#111" stroke-width="1.5" stroke-dasharray="4.8 3.1"/>
<line x1="408.8" y1="42.0" x2="664.8" y2="42.0" stroke="#3a3a3a" stroke-width="1.6"/>
<line x1="664.8" y1="42.0" x2="664.8" y2="238.4" stroke="#3a3a3a" stroke-width="1.6"/>
<line x1="408.80" y1="39.00" x2="408.80" y2="42.00" stroke="#262626" stroke-width="1.5"/>
<text x="408.80" y="55.9" font-family="&quot;Liberation Sans&quot;, sans-serif" font-size="8.3" fill="#404040" text-anchor="middle" textLength="6.35" lengthAdjust="spacingAndGlyphs" stroke="#404040" stroke-width="0.2">-9</text>
<line x1="460.00" y1="39.00" x2="460.00" y2="42.00" stroke="#262626" stroke-width="1.5"/>
<text x="460.00" y="55.9" font-family="&quot;Liberation Sans&quot;, sans-serif" font-size="8.3" fill="#404040" text-anchor="middle" textLength="6.35" lengthAdjust="spacingAndGlyphs" stroke="#404040" stroke-width="0.2">-8</text>
<line x1="511.20" y1="39.00" x2="511.20" y2="42.00" stroke="#262626" stroke-width="1.5"/>
<text x="511.20" y="55.9" font-family="&quot;Liberation Sans&quot;, sans-serif" font-size="8.3" fill="#404040" text-anchor="middle" textLength="6.35" lengthAdjust="spacingAndGlyphs" stroke="#404040" stroke-width="0.2">-7</text>
<line x1="562.40" y1="39.00" x2="562.40" y2="42.00" stroke="#262626" stroke-width="1.5"/>
<text x="562.40" y="55.9" font-family="&quot;Liberation Sans&quot;, sans-serif" font-size="8.3" fill="#404040" text-anchor="middle" textLength="6.35" lengthAdjust="spacingAndGlyphs" stroke="#404040" stroke-width="0.2">-6</text>
<line x1="613.60" y1="39.00" x2="613.60" y2="42.00" stroke="#262626" stroke-width="1.5"/>
<text x="613.60" y="55.9" font-family="&quot;Liberation Sans&quot;, sans-serif" font-size="8.3" fill="#404040" text-anchor="middle" textLength="6.35" lengthAdjust="spacingAndGlyphs" stroke="#404040" stroke-width="0.2">-5</text>
<line x1="664.80" y1="39.00" x2="664.80" y2="42.00" stroke="#262626" stroke-width="1.5"/>
<text x="664.80" y="55.9" font-family="&quot;Liberation Sans&quot;, sans-serif" font-size="8.3" fill="#404040" text-anchor="middle" textLength="6.35" lengthAdjust="spacingAndGlyphs" stroke="#404040" stroke-width="0.2">-4</text>
<line x1="664.80" y1="42.00" x2="667.80" y2="42.00" stroke="#262626" stroke-width="1.4"/>
<text x="657.00" y="44.75" font-family="&quot;Liberation Sans&quot;, sans-serif" font-size="8.3" fill="#404040" text-anchor="end" textLength="6.35" lengthAdjust="spacingAndGlyphs" stroke="#404040" stroke-width="0.2">-4</text>
<line x1="664.80" y1="61.64" x2="667.80" y2="61.64" stroke="#262626" stroke-width="1.4"/>
<text x="657.00" y="64.39" font-family="&quot;Liberation Sans&quot;, sans-serif" font-size="8.3" fill="#404040" text-anchor="end" textLength="12.30" lengthAdjust="spacingAndGlyphs" stroke="#404040" stroke-width="0.2">-4.5</text>
<line x1="664.80" y1="81.28" x2="667.80" y2="81.28" stroke="#262626" stroke-width="1.4"/>
<text x="657.00" y="84.03" font-family="&quot;Liberation Sans&quot;, sans-serif" font-size="8.3" fill="#404040" text-anchor="end" textLength="6.35" lengthAdjust="spacingAndGlyphs" stroke="#404040" stroke-width="0.2">-5</text>
<line x1="664.80" y1="100.92" x2="667.80" y2="100.92" stroke="#262626" stroke-width="1.4"/>
<text x="657.00" y="103.67" font-family="&quot;Liberation Sans&quot;, sans-serif" font-size="8.3" fill="#404040" text-anchor="end" textLength="12.30" lengthAdjust="spacingAndGlyphs" stroke="#404040" stroke-width="0.2">-5.5</text>
<line x1="664.80" y1="120.56" x2="667.80" y2="120.56" stroke="#262626" stroke-width="1.4"/>
<text x="657.00" y="123.31" font-family="&quot;Liberation Sans&quot;, sans-serif" font-size="8.3" fill="#404040" text-anchor="end" textLength="6.35" lengthAdjust="spacingAndGlyphs" stroke="#404040" stroke-width="0.2">-6</text>
<line x1="664.80" y1="140.20" x2="667.80" y2="140.20" stroke="#262626" stroke-width="1.4"/>
<text x="657.00" y="142.95" font-family="&quot;Liberation Sans&quot;, sans-serif" font-size="8.3" fill="#404040" text-anchor="end" textLength="12.30" lengthAdjust="spacingAndGlyphs" stroke="#404040" stroke-width="0.2">-6.5</text>
<line x1="664.80" y1="159.84" x2="667.80" y2="159.84" stroke="#262626" stroke-width="1.4"/>
<text x="657.00" y="162.59" font-family="&quot;Liberation Sans&quot;, sans-serif" font-size="8.3" fill="#404040" text-anchor="end" textLength="6.35" lengthAdjust="spacingAndGlyphs" stroke="#404040" stroke-width="0.2">-7</text>
<line x1="664.80" y1="179.48" x2="667.80" y2="179.48" stroke="#262626" stroke-width="1.4"/>
<text x="657.00" y="182.23" font-family="&quot;Liberation Sans&quot;, sans-serif" font-size="8.3" fill="#404040" text-anchor="end" textLength="12.30" lengthAdjust="spacingAndGlyphs" stroke="#404040" stroke-width="0.2">-7.5</text>
<line x1="664.80" y1="199.12" x2="667.80" y2="199.12" stroke="#262626" stroke-width="1.4"/>
<text x="657.00" y="201.87" font-family="&quot;Liberation Sans&quot;, sans-serif" font-size="8.3" fill="#404040" text-anchor="end" textLength="6.35" lengthAdjust="spacingAndGlyphs" stroke="#404040" stroke-width="0.2">-8</text>
<line x1="664.80" y1="218.76" x2="667.80" y2="218.76" stroke="#262626" stroke-width="1.4"/>
<text x="657.00" y="221.51" font-family="&quot;Liberation Sans&quot;, sans-serif" font-size="8.3" fill="#404040" text-anchor="end" textLength="12.30" lengthAdjust="spacingAndGlyphs" stroke="#404040" stroke-width="0.2">-8.5</text>
<line x1="664.80" y1="238.40" x2="667.80" y2="238.40" stroke="#262626" stroke-width="1.4"/>
<text x="657.00" y="241.15" font-family="&quot;Liberation Sans&quot;, sans-serif" font-size="8.3" fill="#404040" text-anchor="end" textLength="6.35" lengthAdjust="spacingAndGlyphs" stroke="#404040" stroke-width="0.2">-9</text>
<text x="599.0" y="125.1" font-family="&quot;Liberation Sans&quot;, sans-serif" font-size="8.4" fill="#404040" text-anchor="start" textLength="41.0" lengthAdjust="spacingAndGlyphs" stroke="#404040" stroke-width="0.12">y=0.39-3.75</text>
<text x="599.2" y="135.6" font-family="&quot;Liberation Sans&quot;, sans-serif" font-size="8.4" fill="#404040" text-anchor="start" textLength="29.2" lengthAdjust="spacingAndGlyphs" stroke="#404040" stroke-width="0.12">R<tspan font-size="4.2" dy="-3.0">2</tspan><tspan dy="3.0">= 0.29</tspan></text>
<text x="536.9" y="247.8" font-family="&quot;Liberation Sans&quot;, sans-serif" font-size="8.0" fill="#404040" text-anchor="middle" textLength="117.2" lengthAdjust="spacingAndGlyphs" stroke="#404040" stroke-width="0.12">Glyphosate (ln µmol/g creatinine)</text>
<g transform="translate(405.2,140.6) rotate(-90)"><text x="0" y="0" font-family="&quot;Liberation Sans&quot;, sans-serif" font-size="8.0" fill="#404040" text-anchor="middle" textLength="99.1" lengthAdjust="spacingAndGlyphs" stroke="#404040" stroke-width="0.12">AMPA (ln µmol/g creatinine)</text></g>
<path d="M676.50 51.50L680.10 55.10M680.10 51.50L676.50 55.10" stroke="#e23a42" stroke-width="1.2" fill="none"/>
<rect x="676.40" y="64.30" width="3.80" height="3.80" fill="#7030a0"/>
<circle cx="678.30" cy="79.30" r="1.8" stroke="#4b94db" stroke-width="1.15" fill="none"/>
<path d="M678.30 90.90L680.30 94.70L676.30 94.70Z" fill="#34a0ad" stroke="#2cb176" stroke-width="0.8" stroke-linejoin="round"/>
<text x="682.1999999999999" y="55.60" font-family="&quot;Liberation Sans&quot;, sans-serif" font-size="6.4" fill="#555555" text-anchor="start" textLength="25.6" lengthAdjust="spacingAndGlyphs" stroke="#555555" stroke-width="0.05">ESTEBAN</text>
<text x="682.1999999999999" y="68.50" font-family="&quot;Liberation Sans&quot;, sans-serif" font-size="6.4" fill="#555555" text-anchor="start" textLength="59.6" lengthAdjust="spacingAndGlyphs" stroke="#555555" stroke-width="0.05">Swiss HBM4EU study</text>
<text x="682.1999999999999" y="81.60" font-family="&quot;Liberation Sans&quot;, sans-serif" font-size="6.4" fill="#555555" text-anchor="start" textLength="24.3" lengthAdjust="spacingAndGlyphs" stroke="#555555" stroke-width="0.05">UBA ESB</text>
<text x="682.1999999999999" y="95.10" font-family="&quot;Liberation Sans&quot;, sans-serif" font-size="6.4" fill="#555555" text-anchor="start" textLength="28.7" lengthAdjust="spacingAndGlyphs" stroke="#555555" stroke-width="0.05">DIET-HBM</text>
</svg>
</body></html>
